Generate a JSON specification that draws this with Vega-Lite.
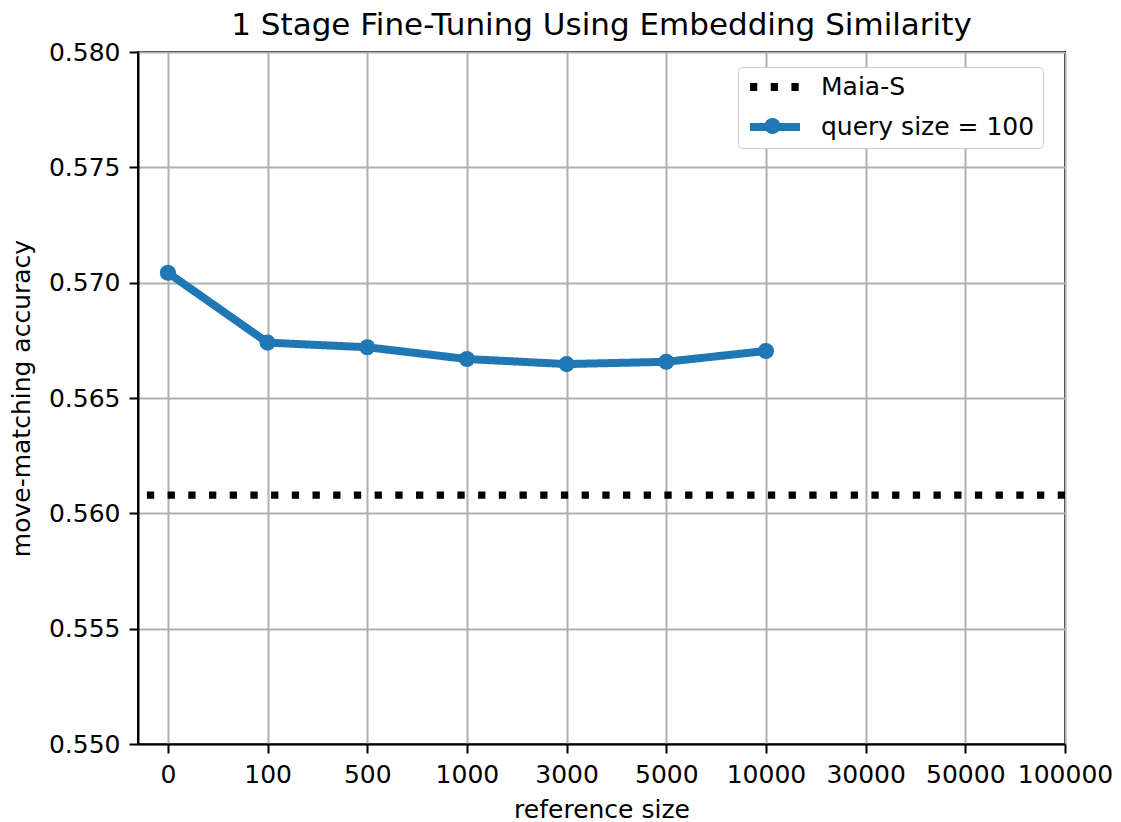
{
  "$schema": "https://vega.github.io/schema/vega-lite/v6.json",
  "width": 927,
  "height": 692,
  "autosize": {"type": "none"},
  "padding": {"left": 138, "top": 52, "right": 56, "bottom": 78},
  "background": "white",
  "title": {
    "text": "1 Stage Fine-Tuning Using Embedding Similarity",
    "font": "DejaVu Sans",
    "fontSize": 31,
    "fontWeight": "normal",
    "color": "black",
    "anchor": "middle",
    "frame": "group",
    "baseline": "alphabetic",
    "offset": 14,
    "dy": 40
  },
  "config": {
    "font": "DejaVu Sans",
    "view": {"stroke": "black", "strokeWidth": 2},
    "axis": {
      "labelFont": "DejaVu Sans",
      "labelFontSize": 25,
      "labelColor": "black",
      "labelOverlap": false,
      "labelFlush": false,
      "titleFont": "DejaVu Sans",
      "titleFontSize": 25,
      "titleFontWeight": "normal",
      "titleColor": "black",
      "domainColor": "black",
      "domainWidth": 2,
      "tickColor": "black",
      "tickWidth": 2,
      "tickSize": 9,
      "labelPadding": 9,
      "gridColor": "#b0b0b0",
      "gridWidth": 2,
      "gridOpacity": 1
    }
  },
  "datasets": {
    "acc": [
      {"ref": "0", "idx": 0, "accuracy": 0.57043, "series": "query size = 100"},
      {"ref": "100", "idx": 1, "accuracy": 0.5674, "series": "query size = 100"},
      {"ref": "500", "idx": 2, "accuracy": 0.5672, "series": "query size = 100"},
      {"ref": "1000", "idx": 3, "accuracy": 0.56669, "series": "query size = 100"},
      {"ref": "3000", "idx": 4, "accuracy": 0.56647, "series": "query size = 100"},
      {"ref": "5000", "idx": 5, "accuracy": 0.56657, "series": "query size = 100"},
      {"ref": "10000", "idx": 6, "accuracy": 0.56704, "series": "query size = 100"}
    ],
    "baseline": [
      {"series": "Maia-S", "accuracy": 0.56079}
    ]
  },
  "layer": [
    {
      "data": {"name": "baseline"},
      "mark": {"type": "rule", "strokeWidth": 7.3, "strokeCap": "butt"},
      "encoding": {
        "y": {"field": "accuracy", "type": "quantitative"},
        "stroke": {
          "field": "series", "type": "nominal",
          "scale": {"domain": ["Maia-S", "query size = 100"], "range": ["black", "#1f77b4"]},
          "legend": {
            "title": null,
            "orient": "none",
            "legendX": 600,
            "legendY": 15,
            "symbolType": "stroke",
            "symbolSize": 2500,
            "symbolStrokeWidth": 8,
            "clipHeight": 24,
            "labelFontSize": 25,
            "labelFont": "DejaVu Sans",
            "labelColor": "black",
            "labelLimit": 400,
            "labelOffset": 17,
            "rowPadding": 15,
            "padding": 8,
            "strokeColor": "#cccccc",
            "fillColor": "white",
            "cornerRadius": 4
          }
        },
        "strokeDash": {
          "field": "series", "type": "nominal",
          "scale": {"domain": ["Maia-S", "query size = 100"], "range": [[7.3, 13.4], [1, 0]]},
          "legend": null
        }
      }
    },
    {
      "data": {"name": "acc"},
      "mark": {"type": "line", "strokeWidth": 8, "strokeJoin": "round"},
      "encoding": {
        "x": {
          "field": "idx", "type": "quantitative",
          "scale": {"domain": [-0.3, 9], "nice": false, "zero": false},
          "axis": {
            "values": [0, 1, 2, 3, 4, 5, 6, 7, 8, 9],
            "labelExpr": "['0','100','500','1000','3000','5000','10000','30000','50000','100000'][datum.value]",
            "title": "reference size",
            "titlePadding": 10,
            "grid": true
          }
        },
        "y": {
          "field": "accuracy", "type": "quantitative",
          "scale": {"domain": [0.55, 0.58], "nice": false, "zero": false},
          "axis": {
            "values": [0.55, 0.555, 0.56, 0.565, 0.57, 0.575, 0.58],
            "format": ".3f",
            "title": "move-matching accuracy",
            "titlePadding": 14,
            "grid": true
          }
        },
        "stroke": {"field": "series", "type": "nominal"},
        "strokeDash": {"field": "series", "type": "nominal"}
      }
    },
    {
      "data": {"name": "acc"},
      "mark": {"type": "point", "filled": true, "shape": "circle", "size": 260, "opacity": 1},
      "encoding": {
        "x": {"field": "idx", "type": "quantitative"},
        "y": {"field": "accuracy", "type": "quantitative"},
        "fill": {
          "field": "series", "type": "nominal",
          "scale": {"domain": ["query size = 100"], "range": ["#1f77b4"]},
          "legend": {
            "title": null,
            "orient": "none",
            "legendX": 622,
            "legendY": 62,
            "symbolType": "circle",
            "symbolSize": 260,
            "symbolOpacity": 1,
            "clipHeight": 24,
            "labelOpacity": 0,
            "labelFontSize": 25,
            "padding": 0
          }
        }
      }
    }
  ]
}
